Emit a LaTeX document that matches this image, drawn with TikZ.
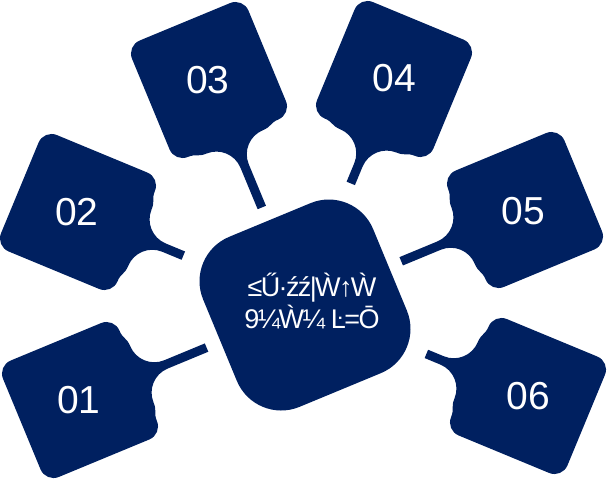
\documentclass[tikz,border=0pt]{standalone}
\usepackage{fontspec}
\setmainfont{Liberation Sans}
\definecolor{navy}{RGB}{0,32,96}
\tikzset{
    paddle/.pic={
        \fill[navy] (63,49) arc[start angle=0,end angle=90,radius=14]
            -- (-49,63) arc[start angle=90,end angle=180,radius=14]
            -- (-63,-49) arc[start angle=180,end angle=270,radius=14]
            -- (49,-63) arc[start angle=270,end angle=360,radius=14]
            -- (63,-49) .. controls (63,-40) and (67,-40) .. (67,-30.5)
            arc[start angle=180,end angle=90,radius=26]
            -- (#1,-4.5) -- (#1,4.5) -- (93,4.5)
            arc[start angle=270,end angle=180,radius=26]
            .. controls (67,40) and (63,40) .. (63,49) -- cycle;
    },
    hubbox/.style={fill=navy, rectangle, rounded corners=48pt, minimum size=184pt, inner sep=0pt}
}
\begin{document}
\begin{tikzpicture}[x=1pt,y=-1pt]
            \useasboundingbox (0,0) rectangle (609,480);

            \node[hubbox, rotate=22.5] (hub) at (305,305) {};

            \pic[rotate=22.5] at (80,400) {paddle=137};
            \pic[rotate=-22.5] at (78,212) {paddle=114};
            \pic[rotate=-67.5] at (209,80) {paddle=138};
            \pic[rotate=-112.5] at (394,79) {paddle=113};
            \pic[rotate=-157.5] at (525,210) {paddle=134};
            \pic[rotate=157.5] at (528,396) {paddle=110};

            \begin{scope}[every node/.style={text=white, inner sep=0pt, font=\fontsize{39}{47}\selectfont}]
                \node (p1) at (79,400) {01};
                \node (p2) at (77,212) {02};
                \node (p3) at (208,80) {03};
                \node (p4) at (394,78) {04};
                \node (p5) at (523,211) {05};
                \node (p6) at (528,396) {06};
            \end{scope}

            \node[text=white, align=center, font=\fontsize{27}{32}\selectfont\addfontfeature{LetterSpace=-6}] (title) at (312,301) {≤Ű·źź|Ẁ↑Ẁ\\9¼Ẁ¼ Ŀ=Ō};
        \end{tikzpicture}
\end{document}
